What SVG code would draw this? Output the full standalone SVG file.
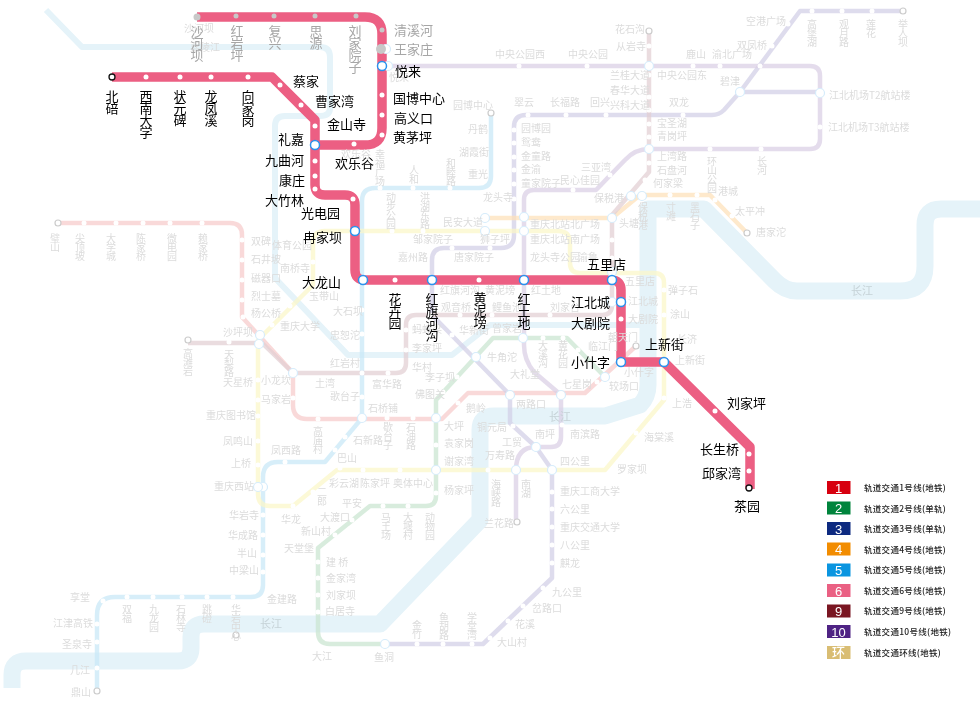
<svg xmlns="http://www.w3.org/2000/svg" width="980" height="710" viewBox="0 0 980 710">
<defs><filter id="soft" x="-2%" y="-2%" width="104%" height="104%"><feGaussianBlur stdDeviation=".35"/></filter></defs>
<style>
text{font-family:"Noto Sans CJK SC","Liberation Sans",sans-serif}
.ln{fill:none;stroke-linejoin:round}
.r1{stroke:#e5f3f9;stroke-width:17}
.r2{stroke:#e5f3f9;stroke-width:6}
.p{stroke-width:4.5;opacity:.72}
.b{font-size:13px;fill:#000}
.g{font-size:13px;fill:#a6a6a6}
.t{font-size:10px;fill:#dcdcdc}
.tv{font-size:10px;fill:#dcdcdc;writing-mode:vertical-rl;text-orientation:upright;letter-spacing:-1px}
.bv{font-size:13px;fill:#000;writing-mode:vertical-rl;text-orientation:upright;letter-spacing:-1px}
.gv{font-size:13px;fill:#a6a6a6;writing-mode:vertical-rl;text-orientation:upright;letter-spacing:-1px}
.d{fill:#fff}
.ip{fill:#fff;stroke:#d6ecfb;stroke-width:1.2}
.ib{fill:#fff;stroke:#2a93ee;stroke-width:1.5}
.e{fill:#fff;stroke:#cccccc;stroke-width:1.2}
.lg{font-size:8.5px;fill:#222;letter-spacing:.3px;font-weight:500}
.ln6{fill:#fff;font-size:13px;font-weight:500;text-anchor:middle;font-family:"Liberation Sans",sans-serif}
.y{font-size:11px;fill:#c6d2d7}
</style>
<g id="rivers" filter="url(#soft)">
<path class="ln r1" d="M12 688V675Q12 661 26 661H178Q191 661 191 648V637Q191 624 204 624H380L480 520V430Q480 416 494 416H605L640 405Q648 397 648 385V209H704L775 281Q785 291 797 291H900Q925 291 925 266V225Q925 209 941 209H980"/>
<path class="ln r2" d="M46 10L82 47H320Q330 47 330 57V108Q330 116 320 116H285Q275 116 275 126V278L348 355H452L490 325H640"/>
</g>
<g id="connectors">
<g filter="url(#soft)">
<path class="ln p" stroke="#f6caca" d="M58 223H230Q242 223 242 235V317L293 373V405Q293 419 307 419H442L468 393H585L636 346"/>
<path class="ln p" stroke="#c9e4d0" d="M605 377L567 338H493L436 400V496Q436 506 426 506H370L318 548V632Q318 644 330 644H385"/>
<path class="ln p" stroke="#d1cfe6" d="M903 11H800L740 92L724 110Q719 115 712 115H526Q514 115 514 127V235Q514 248 501 248H444Q432 248 432 260V315L510 395V423L536 447L552 470V578L483 644H385"/>
<path class="ln p" stroke="#d1cfe6" d="M740 92H820"/>
<path class="ln p" stroke="#fde0b8" d="M485 218H612L640 195H710L747 233"/>
<path class="ln p" stroke="#c8e8f7" d="M491 113V176Q491 188 479 188H375Q362 188 362 201V418L325 462H278Q263 462 263 477V585Q263 597 251 597H115Q97 597 97 615V691"/>
<path class="ln p" stroke="#e2cfd2" d="M649 31V172L612 215V305Q612 315 602 315H416Q406 315 406 325V363Q406 373 396 373H293L262 343H188"/>
<path class="ln p" stroke="#dacfe4" d="M382 66H810Q820 66 820 76V139Q820 149 810 149H649Q635 149 625 160L596 190H534Q524 190 524 200V345Q524 360 534 372L561 395V437Q561 447 551 447H536Q516 447 516 470V522"/>
<path class="ln p" stroke="#fbf7c8" d="M325 231H558Q570 231 570 243V263Q570 273 580 273H654Q664 273 664 283V400L605 470H337L293 506H270Q258 506 258 494V340L313 285V243Q313 231 325 231"/>
</g>
<path class="ln" stroke="#ec5f83" stroke-width="9.500" d="M112 77H272L315 120V185Q315 195 325 195H345Q355 195 355 205V270Q355 280 365 280H611Q621 280 621 290V362H664L750 447V489"/>
<path class="ln" stroke="#ec5f83" stroke-width="9.500" d="M197 17H365Q382 17 382 34V128Q382 145 365 145H315"/>
</g>
<g id="pale-stations" filter="url(#soft)">
<g class="d"><circle cx="84" cy="223" r="2.5"/><circle cx="116" cy="223" r="2.5"/><circle cx="143" cy="223" r="2.5"/><circle cx="170" cy="223" r="2.5"/><circle cx="202" cy="223" r="2.5"/><circle cx="242" cy="240" r="2.5"/><circle cx="242" cy="260" r="2.5"/><circle cx="242" cy="280" r="2.5"/><circle cx="242" cy="300" r="2.5"/><circle cx="243" cy="317" r="2.5"/><circle cx="293" cy="398" r="2.5"/><circle cx="318" cy="419" r="2.5"/><circle cx="387" cy="418" r="2.5"/><circle cx="413" cy="418" r="2.5"/><circle cx="458" cy="403" r="2.5"/><circle cx="597" cy="382" r="2.5"/>
<circle cx="229" cy="342" r="2.5"/><circle cx="388" cy="373" r="2.5"/><circle cx="406" cy="330" r="2.5"/><circle cx="406" cy="350" r="2.5"/><circle cx="430" cy="315" r="2.5"/><circle cx="460" cy="315" r="2.5"/><circle cx="492" cy="315" r="2.5"/><circle cx="550" cy="315" r="2.5"/><circle cx="649" cy="46" r="2.5"/><circle cx="649" cy="75" r="2.5"/><circle cx="649" cy="97" r="2.5"/><circle cx="649" cy="110" r="2.5"/><circle cx="649" cy="124" r="2.5"/><circle cx="649" cy="137" r="2.5"/><circle cx="649" cy="163" r="2.5"/><circle cx="645" cy="180" r="2.5"/><circle cx="612" cy="258" r="2.5"/><circle cx="612" cy="240" r="2.5"/>
<circle cx="519" cy="66" r="2.5"/><circle cx="587" cy="66" r="2.5"/><circle cx="693" cy="66" r="2.5"/><circle cx="720" cy="66" r="2.5"/><circle cx="760" cy="66" r="2.5"/><circle cx="820" cy="127" r="2.5"/><circle cx="710" cy="149" r="2.5"/><circle cx="761" cy="149" r="2.5"/><circle cx="610" cy="175" r="2.5"/><circle cx="573" cy="190" r="2.5"/><circle cx="562" cy="425" r="2.5"/>
<circle cx="812" cy="11" r="2.5"/><circle cx="842" cy="11" r="2.5"/><circle cx="872" cy="11" r="2.5"/><circle cx="788" cy="24" r="2.5"/><circle cx="772" cy="46" r="2.5"/><circle cx="528" cy="115" r="2.5"/><circle cx="566" cy="115" r="2.5"/><circle cx="606" cy="115" r="2.5"/><circle cx="683" cy="115" r="2.5"/><circle cx="514" cy="130" r="2.5"/><circle cx="514" cy="143" r="2.5"/><circle cx="514" cy="157" r="2.5"/><circle cx="514" cy="170" r="2.5"/><circle cx="514" cy="184" r="2.5"/><circle cx="514" cy="199" r="2.5"/><circle cx="452" cy="248" r="2.5"/><circle cx="490" cy="248" r="2.5"/><circle cx="452" cy="335" r="2.5"/><circle cx="552" cy="492" r="2.5"/><circle cx="552" cy="509" r="2.5"/><circle cx="552" cy="527" r="2.5"/><circle cx="552" cy="545" r="2.5"/><circle cx="552" cy="563" r="2.5"/><circle cx="543" cy="588" r="2.5"/><circle cx="523" cy="606" r="2.5"/><circle cx="508" cy="621" r="2.5"/><circle cx="490" cy="638" r="2.5"/><circle cx="417" cy="644" r="2.5"/><circle cx="443" cy="644" r="2.5"/><circle cx="472" cy="644" r="2.5"/><circle cx="513" cy="426" r="2.5"/>
<circle cx="670" cy="195" r="2.5"/><circle cx="697" cy="195" r="2.5"/><circle cx="715" cy="200" r="2.5"/><circle cx="732" cy="216" r="2.5"/><circle cx="392" cy="231" r="2.5"/><circle cx="423" cy="231" r="2.5"/>
<circle cx="380" cy="188" r="2.5"/><circle cx="413" cy="188" r="2.5"/><circle cx="450" cy="188" r="2.5"/><circle cx="362" cy="310" r="2.5"/><circle cx="362" cy="334" r="2.5"/><circle cx="362" cy="373" r="2.5"/><circle cx="362" cy="397" r="2.5"/><circle cx="345" cy="437" r="2.5"/><circle cx="335" cy="450" r="2.5"/><circle cx="285" cy="462" r="2.5"/><circle cx="263" cy="515" r="2.5"/><circle cx="263" cy="535" r="2.5"/><circle cx="263" cy="555" r="2.5"/><circle cx="263" cy="572" r="2.5"/><circle cx="233" cy="597" r="2.5"/><circle cx="207" cy="597" r="2.5"/><circle cx="182" cy="597" r="2.5"/><circle cx="153" cy="597" r="2.5"/><circle cx="127" cy="597" r="2.5"/><circle cx="103" cy="601" r="2.5"/><circle cx="97" cy="624" r="2.5"/><circle cx="97" cy="642" r="2.5"/><circle cx="97" cy="668" r="2.5"/>
<circle cx="543" cy="338" r="2.5"/><circle cx="563" cy="338" r="2.5"/><circle cx="578" cy="350" r="2.5"/><circle cx="590" cy="364" r="2.5"/><circle cx="457" cy="377" r="2.5"/><circle cx="443" cy="392" r="2.5"/><circle cx="436" cy="445" r="2.5"/><circle cx="436" cy="493" r="2.5"/><circle cx="383" cy="506" r="2.5"/><circle cx="408" cy="506" r="2.5"/><circle cx="352" cy="520" r="2.5"/><circle cx="335" cy="535" r="2.5"/><circle cx="318" cy="562" r="2.5"/><circle cx="318" cy="578" r="2.5"/><circle cx="318" cy="595" r="2.5"/><circle cx="318" cy="612" r="2.5"/>
<circle cx="664" cy="290" r="2.5"/><circle cx="664" cy="315" r="2.5"/><circle cx="664" cy="398" r="2.5"/><circle cx="636" cy="433" r="2.5"/><circle cx="363" cy="470" r="2.5"/><circle cx="400" cy="470" r="2.5"/><circle cx="488" cy="470" r="2.5"/><circle cx="340" cy="468" r="2.5"/><circle cx="258" cy="380" r="2.5"/><circle cx="258" cy="400" r="2.5"/><circle cx="258" cy="416" r="2.5"/><circle cx="258" cy="441" r="2.5"/><circle cx="258" cy="465" r="2.5"/><circle cx="290" cy="306" r="2.5"/><circle cx="272" cy="325" r="2.5"/><circle cx="313" cy="492" r="2.5"/><circle cx="293" cy="506" r="2.5"/><circle cx="313" cy="262" r="2.5"/></g>
<g class="ip"><circle cx="649" cy="66" r="4.5"/><circle cx="740" cy="92" r="4.5"/><circle cx="820" cy="93" r="4.5"/><circle cx="649" cy="149" r="4.5"/><circle cx="631" cy="196" r="4.5"/><circle cx="642" cy="196" r="4.5"/><circle cx="612" cy="218" r="4.5"/><circle cx="524" cy="217" r="4.5"/><circle cx="524" cy="231" r="4.5"/><circle cx="485" cy="218" r="4.5"/><circle cx="485" cy="231" r="4.5"/><circle cx="362" cy="418" r="4.5"/><circle cx="259" cy="344" r="4.5"/><circle cx="260" cy="335" r="4.5"/><circle cx="293" cy="373" r="4.5"/><circle cx="436" cy="418" r="4.5"/><circle cx="476" cy="357" r="4.5"/><circle cx="510" cy="395" r="4.5"/><circle cx="561" cy="395" r="4.5"/><circle cx="605" cy="377" r="4.5"/><circle cx="523" cy="338" r="4.5"/><circle cx="536" cy="447" r="4.5"/><circle cx="516" cy="470" r="4.5"/><circle cx="552" cy="470" r="4.5"/><circle cx="436" cy="470" r="4.5"/><circle cx="263" cy="487" r="4.5"/><circle cx="258" cy="487" r="4.5"/><circle cx="385" cy="644" r="4.5"/><circle cx="612" cy="272" r="4.5"/><circle cx="612" cy="302" r="4.5"/><circle cx="388" cy="66" r="4.5"/><circle cx="386" cy="49" r="4.5"/></g>
<g class="e"><circle cx="58" cy="223" r="3"/><circle cx="188" cy="340" r="3"/><circle cx="649" cy="31" r="3"/><circle cx="903" cy="11" r="3"/><circle cx="747" cy="233" r="3"/><circle cx="491" cy="113" r="3"/><circle cx="97" cy="691" r="3"/><circle cx="636" cy="346" r="3"/><circle cx="517" cy="522" r="3"/><circle cx="236" cy="635" r="3"/></g>
</g>
<g id="pale-labels" filter="url(#soft)">
<g class="t">
<text x="184" y="32">沙河坝</text><text x="190" y="51">嘉陵江</text><text x="389" y="81">悦来</text><text x="453" y="109">园博中心</text><text x="468" y="133">丹鹤</text><text x="459" y="156">湖霞街</text><text x="468" y="178">重光</text><text x="341" y="158">欢乐谷</text><text x="443" y="226">民安大道</text><text x="483" y="201">龙头寺</text><text x="413" y="243">邹家院子</text><text x="480" y="243">狮子坪</text><text x="398" y="261">嘉州路</text><text x="454" y="261">唐家院子</text><text x="530" y="243">重庆北站南广场</text><text x="530" y="261">龙头寺公园</text><text x="578" y="261">渝鲁</text>
<text x="514" y="106">翠云</text><text x="550" y="106">长福路</text><text x="590" y="106">回兴</text><text x="610" y="109">兴科大道</text><text x="610" y="94">春华大道</text><text x="610" y="79">兰桂大道</text><text x="616" y="50">从岩寺</text><text x="615" y="33">花石沟</text><text x="495" y="58">中央公园西</text><text x="568" y="58">中央公园</text><text x="657" y="79">中央公园东</text><text x="686" y="58">鹿山</text><text x="712" y="58">渝北广场</text><text x="720" y="85">碧津</text><text x="737" y="49">双凤桥</text><text x="746" y="25">空港广场</text><text x="829" y="99">江北机场T2航站楼</text><text x="828" y="131">江北机场T3航站楼</text><text x="669" y="106">双龙</text><text x="657" y="127">宝圣湖</text><text x="657" y="140">青岗坪</text><text x="657" y="160">上湾路</text><text x="657" y="174">石盘河</text><text x="653" y="187">何家梁</text><text x="718" y="195">港城</text><text x="735" y="215">太平冲</text><text x="756" y="236">唐家沱</text><text x="594" y="202">保税港</text><text x="619" y="227">头塘</text><text x="581" y="171">三亚湾</text><text x="560" y="184">民心佳园</text><text x="521" y="132">园博园</text><text x="521" y="146">鸳鸯</text><text x="521" y="160">金童路</text><text x="521" y="173">金渝</text><text x="521" y="187">童家院子</text><text x="530" y="228">重庆北站北广场</text>
<text x="251" y="245">双碑</text><text x="251" y="263">石井坡</text><text x="251" y="282">磁器口</text><text x="251" y="300">烈士墓</text><text x="251" y="317">杨公桥</text><text x="272" y="249">体育公园</text><text x="280" y="272">南桥寺</text><text x="309" y="300">玉带山</text><text x="223" y="336">沙坪坝</text><text x="280" y="330">重庆大学</text><text x="261" y="384">小龙坎</text><text x="261" y="403">马家岩</text><text x="223" y="386">天星桥</text><text x="206" y="419">重庆图书馆</text><text x="223" y="445">凤鸣山</text><text x="231" y="467">上桥</text><text x="271" y="454">凤西路</text><text x="330" y="367">红岩村</text><text x="315" y="387">土湾</text><text x="330" y="400">歌台子</text><text x="372" y="388">富华路</text>
<text x="440" y="294">红旗河沟</text><text x="485" y="294">黄泥塝</text><text x="531" y="294">红土地</text><text x="441" y="311">观音桥</text><text x="492" y="311">鲤鱼池</text><text x="550" y="311">刘家台</text><text x="625" y="285">五里店</text><text x="628" y="305">江北城</text><text x="628" y="323">大剧院</text><text x="412" y="333">蚂蝗梁</text><text x="459" y="334">华新街</text><text x="492" y="332">曾家岩</text><text x="487" y="361">牛角沱</text><text x="412" y="352">李家坪</text><text x="412" y="371">华村</text><text x="425" y="381">李子坝</text><text x="415" y="398">佛图关</text><text x="588" y="350">临江门</text><text x="608" y="341">朝天门</text><text x="609" y="390">较场口</text><text x="624" y="376">小什字</text><text x="510" y="378">大礼堂</text><text x="562" y="388">七星岗</text><text x="675" y="364">上新街</text><text x="668" y="294">弹子石</text><text x="670" y="318">涂山</text><text x="677" y="343">长济</text><text x="672" y="407">上浩</text><text x="644" y="441">海棠溪</text><text x="617" y="473">罗家坝</text><text x="560" y="465">四公里</text><text x="570" y="438">南滨路</text><text x="535" y="438">南坪</text><text x="502" y="446">工贸</text><text x="477" y="431">铜元局</text><text x="485" y="459">万寿路</text><text x="516" y="408">两路口</text><text x="466" y="412">鹅岭</text><text x="368" y="412">石桥铺</text><text x="444" y="430">大坪</text><text x="444" y="447">袁家岗</text><text x="444" y="465">谢家湾</text><text x="444" y="494">杨家坪</text><text x="393" y="487">奥体中心</text><text x="360" y="487">陈家坪</text><text x="329" y="487">彩云湖</text><text x="342" y="507">平安</text><text x="320" y="521">大渡口</text><text x="484" y="527">兰花路</text><text x="560" y="495">重庆工商大学</text><text x="560" y="513">六公里</text><text x="560" y="531">重庆交通大学</text><text x="560" y="549">八公里</text><text x="560" y="567">麒龙</text><text x="552" y="596">九公里</text><text x="532" y="612">岔路口</text><text x="515" y="628">花溪</text><text x="497" y="646">大山村</text><text x="374" y="661">鱼洞</text><text x="312" y="660">大江</text><text x="325" y="615">白居寺</text><text x="326" y="599">刘家坝</text><text x="326" y="582">金家湾</text><text x="326" y="566">建 桥</text><text x="284" y="552">天堂堡</text><text x="301" y="535">新山村</text><text x="281" y="523">华龙</text><text x="267" y="603">金建路</text><text x="70" y="601">享堂</text><text x="53" y="627">江津高铁</text><text x="62" y="648">圣泉寺</text><text x="70" y="674">几江</text><text x="71" y="696">鼎山</text><text x="229" y="519">华岩寺</text><text x="228" y="539">华成路</text><text x="237" y="557">半山</text><text x="229" y="574">中梁山</text><text x="214" y="490">重庆西站</text><text x="353" y="444">石新路</text><text x="337" y="462">巴山</text><text x="333" y="315">大石坝</text><text x="330" y="339">忠恕沱</text>
</g>
<text class="y" x="549" y="421">长江</text><text class="y" x="260" y="628">长江</text><text class="y" x="851" y="295">长江</text>
<g class="tv">
<text x="451" y="158">和睦路</text><text x="414" y="165">人和</text><text x="380" y="149">幸福广场</text><text x="391" y="192">动步公园</text><text x="425" y="192">洪湖东路</text><text x="812" y="19">高堡湖</text><text x="844" y="19">观月路</text><text x="871" y="19">莲花</text><text x="903" y="19">举人坝</text><text x="712" y="156">环山公园</text><text x="762" y="156">长河</text><text x="643" y="202">保税港</text><text x="671" y="202">寸滩</text><text x="695" y="202">黑石子</text><text x="55" y="233">璧山</text><text x="80" y="233">尖顶坡</text><text x="111" y="233">大学城</text><text x="141" y="233">陈家桥</text><text x="172" y="233">微电园</text><text x="203" y="233">赖家桥</text><text x="188" y="348">高滩岩</text><text x="229" y="349">天梨路</text><text x="318" y="426">高庙村</text><text x="388" y="422">歇台子</text><text x="411" y="422">石油路</text><text x="543" y="340">大溪沟</text><text x="563" y="340">黄花园</text><text x="386" y="512">马王场</text><text x="408" y="512">大堰村</text><text x="430" y="512">动物园</text><text x="496" y="479">海峡路</text><text x="526" y="479">南湖</text><text x="472" y="612">学堂湾</text><text x="444" y="612">鱼胡路</text><text x="417" y="620">金竹</text><text x="322" y="487">二郎</text><text x="127" y="604">双福</text><text x="154" y="604">九龙园</text><text x="181" y="604">石林寺</text><text x="207" y="604">跳磴</text><text x="236" y="604">华岩中心</text>
</g>
</g>
<g id="line6-stations">
<g id="n-beibei"><circle cx="112" cy="77" r="3" fill="#fff" stroke="#111" stroke-width="1.3"/><text class="bv" x="112" y="90">北碚</text></g>
<g id="n-xinan"><circle class="d" cx="146" cy="77" r="2.5"/><text class="bv" x="146" y="90">西南大学</text></g>
<g id="n-zhuangyuan"><circle class="d" cx="180" cy="77" r="2.5"/><text class="bv" x="180" y="90">状元碑</text></g>
<g id="n-longfeng"><circle class="d" cx="211" cy="77" r="2.5"/><text class="bv" x="211" y="90">龙凤溪</text></g>
<g id="n-xiangjia"><circle class="d" cx="248" cy="77" r="2.5"/><text class="bv" x="248" y="90">向家岗</text></g>
<g id="n-caijia"><circle class="d" cx="280" cy="85" r="2.5"/><text class="b" x="293" y="86">蔡家</text></g>
<g id="n-caojiawan"><circle class="d" cx="301" cy="105" r="2.5"/><text class="b" x="315" y="106">曹家湾</text></g>
<g id="n-jinshansi"><circle class="d" cx="315" cy="126" r="2.5"/><text class="b" x="327" y="129">金山寺</text></g>
<g id="n-lijia"><circle class="ib" cx="315" cy="145" r="4.5"/><text class="b" x="278" y="144">礼嘉</text></g>
<g id="n-jiuquhe"><circle class="d" cx="315" cy="161" r="2.5"/><text class="b" x="265" y="165">九曲河</text></g>
<g id="n-kangzhuang"><circle class="d" cx="315" cy="176" r="2.5"/><text class="b" x="279" y="185">康庄</text></g>
<g id="n-dazhulin"><circle class="d" cx="315" cy="189" r="2.5"/><text class="b" x="265" y="205">大竹林</text></g>
<g id="n-guangdian"><circle class="d" cx="353" cy="199" r="2.5"/><text class="b" x="301" y="218">光电园</text></g>
<g id="n-ranjia"><circle class="ib" cx="355" cy="231" r="4.5"/><text class="b" x="303" y="242">冉家坝</text></g>
<g id="n-dalong"><circle class="ib" cx="363" cy="280" r="4.5"/><text class="b" x="302" y="287">大龙山</text></g>
<g id="n-huahui"><circle class="d" cx="395" cy="280" r="2.5"/><text class="bv" x="395" y="293">花卉园</text></g>
<g id="n-hongqi"><circle class="ib" cx="432" cy="280" r="4.5"/><text class="bv" x="432" y="293">红旗河沟</text></g>
<g id="n-huangni"><circle class="d" cx="479" cy="280" r="2.5"/><text class="bv" x="480" y="292">黄泥塝</text></g>
<g id="n-hongtu"><circle class="ib" cx="524" cy="280" r="4.5"/><text class="bv" x="524" y="293">红土地</text></g>
<g id="n-wulidian"><circle class="ib" cx="612" cy="280" r="4.5"/><text class="b" x="587" y="269">五里店</text></g>
<g id="n-jiangbei"><circle class="ib" cx="621" cy="302" r="4.5"/><text class="b" x="571" y="307">江北城</text></g>
<g id="n-dajuyuan"><circle class="d" cx="621" cy="319" r="2.5"/><text class="b" x="571" y="328">大剧院</text></g>
<g id="n-xiaoshizi"><circle class="ib" cx="621" cy="362" r="4.5"/><text class="b" x="571" y="367">小什字</text></g>
<g id="n-shangxin"><circle class="ib" cx="664" cy="362" r="4.5"/><text class="b" x="645" y="349">上新街</text></g>
<g id="n-liujiaping"><circle class="d" cx="715" cy="411" r="2.5"/><text class="b" x="727" y="408">刘家坪</text></g>
<g id="n-changsheng"><circle class="d" cx="749" cy="454" r="2.5"/><text class="b" x="700" y="454">长生桥</text></g>
<g id="n-qiujia"><circle class="d" cx="749" cy="471" r="2.5"/><text class="b" x="702" y="478">邱家湾</text></g>
<g id="n-chayuan"><circle cx="749" cy="488" r="3" fill="#fff" stroke="#111" stroke-width="1.3"/><text class="b" x="734" y="511">茶园</text></g>
<g id="n-shahe"><circle cx="197" cy="17" r="3.5" fill="#c8c8c8"/><text class="gv" x="197" y="25">沙河坝</text></g>
<g id="n-hongyan"><circle cx="236" cy="16" r="2.5" fill="#c8c8c8"/><text class="gv" x="237" y="25">红岩坪</text></g>
<g id="n-fuxing"><circle cx="274" cy="16" r="2.5" fill="#c8c8c8"/><text class="gv" x="275" y="25">复兴</text></g>
<g id="n-siyuan"><circle cx="315" cy="16" r="2.5" fill="#c8c8c8"/><text class="gv" x="316" y="25">思源</text></g>
<g id="n-liujia"><circle cx="356" cy="16" r="2.5" fill="#c8c8c8"/><text class="gv" x="355" y="25">刘家院子</text></g>
<g id="n-qingxi"><circle cx="382" cy="30" r="2.5" fill="#c8c8c8"/><text class="g" x="394" y="35">清溪河</text></g>
<g id="n-wangjia"><circle cx="381" cy="49" r="5" fill="#c8c8c8"/><text class="g" x="394" y="54">王家庄</text></g>
<g id="n-yuelai"><circle class="ib" cx="382" cy="66" r="4.5"/><text class="b" x="395" y="76">悦来</text></g>
<g id="n-guobo"><circle class="d" cx="382" cy="95" r="2.5"/><text class="b" x="393" y="103">国博中心</text></g>
<g id="n-gaoyi"><circle class="d" cx="382" cy="115" r="2.5"/><text class="b" x="394" y="123">高义口</text></g>
<g id="n-huangmao"><circle class="d" cx="382" cy="135" r="2.5"/><text class="b" x="393" y="142">黄茅坪</text></g>
<g id="n-huanle"><circle class="d" cx="354" cy="144" r="2.5"/><text class="b" x="335" y="168">欢乐谷</text></g>
</g>
<g id="legend">
<rect x="827" y="481" width="23.5" height="13" fill="#d7000f"/><text class="ln6" x="838.5" y="492.5">1</text><text class="lg" x="864" y="491">轨道交通1号线(地铁)</text>
<rect x="827" y="501.500" width="23.5" height="13" fill="#00843c"/><text class="ln6" x="838.5" y="513">2</text><text class="lg" x="864" y="511.500">轨道交通2号线(单轨)</text>
<rect x="827" y="522" width="23.5" height="13" fill="#0d2a80"/><text class="ln6" x="838.5" y="533.500">3</text><text class="lg" x="864" y="532">轨道交通3号线(单轨)</text>
<rect x="827" y="542.500" width="23.5" height="13" fill="#f28c00"/><text class="ln6" x="838.5" y="554">4</text><text class="lg" x="864" y="552.500">轨道交通4号线(地铁)</text>
<rect x="827" y="563.500" width="23.5" height="13" fill="#0a95e0"/><text class="ln6" x="838.5" y="575">5</text><text class="lg" x="864" y="573">轨道交通5号线(地铁)</text>
<rect x="827" y="584" width="23.5" height="13" fill="#ea6083"/><text class="ln6" x="838.5" y="595.500">6</text><text class="lg" x="864" y="593.500">轨道交通6号线(地铁)</text>
<rect x="827" y="604.500" width="23.5" height="13" fill="#7a1622"/><text class="ln6" x="838.5" y="616">9</text><text class="lg" x="864" y="614">轨道交通9号线(地铁)</text>
<rect x="827" y="625" width="23.5" height="13" fill="#4f2384"/><text class="ln6" x="838.5" y="636.500">10</text><text class="lg" x="864" y="634.500">轨道交通10号线(地铁)</text>
<rect x="827" y="646" width="23.5" height="13" fill="#d9bd73"/><text class="ln6" style='font-family:"Noto Sans CJK SC",sans-serif' x="838.5" y="657">环</text><text class="lg" x="864" y="655.500">轨道交通环线(地铁)</text>
</g>
</svg>
